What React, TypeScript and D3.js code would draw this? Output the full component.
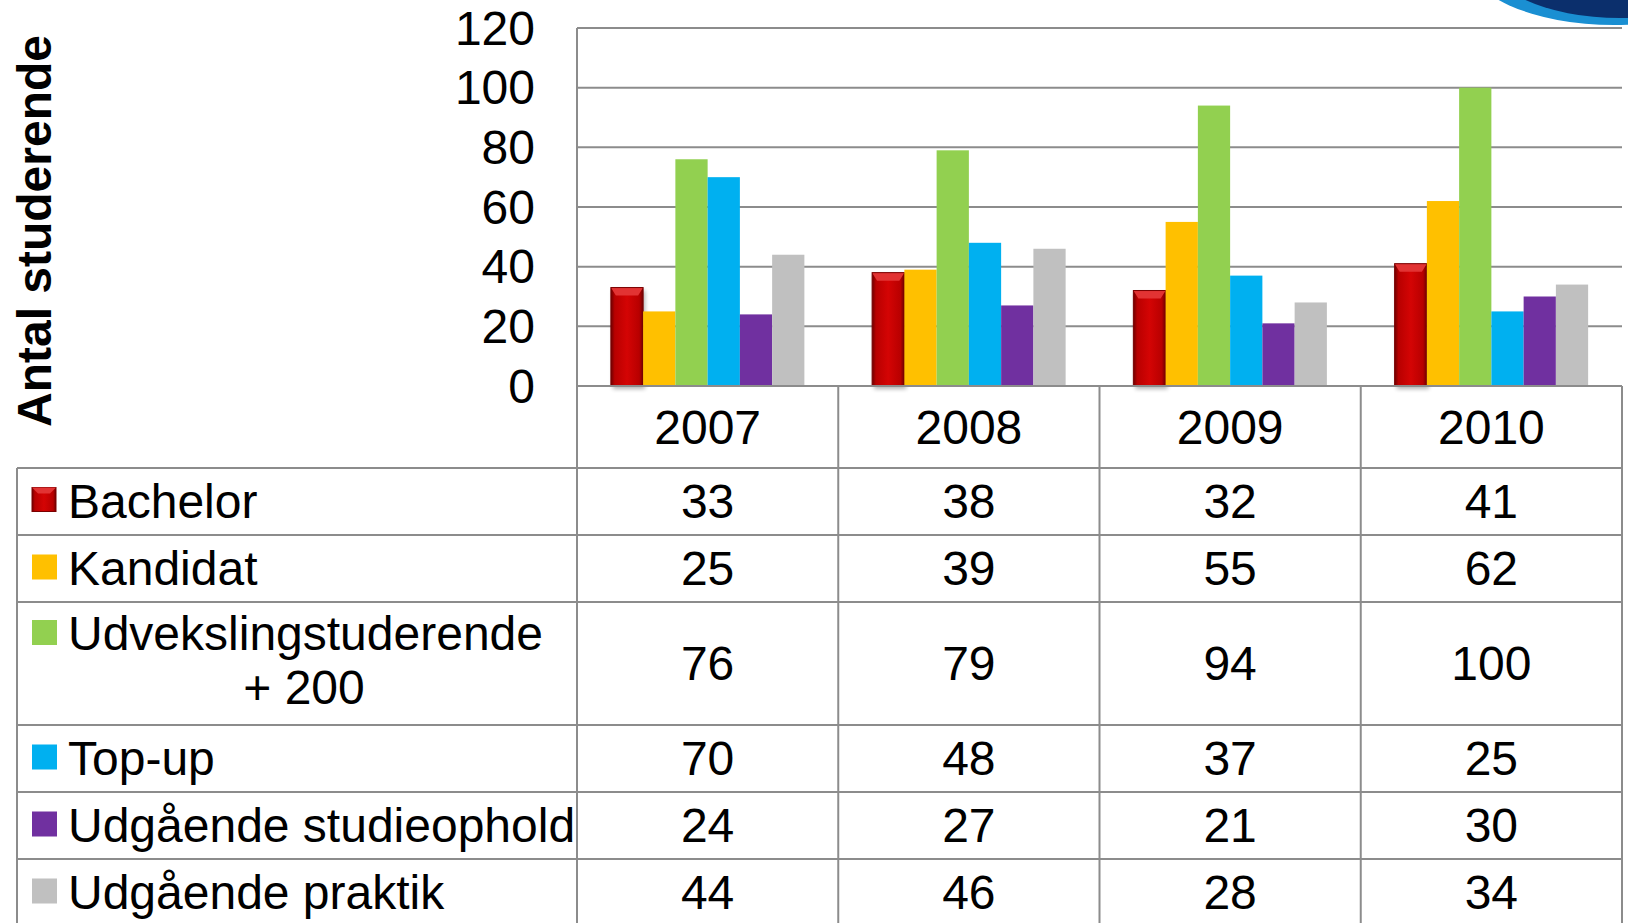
import React from "react";
import * as d3 from "d3";

// data
const years = ["2007", "2008", "2009", "2010"];
const seriesKeys = ["bachelor", "kandidat", "udveksling", "topup", "studieophold", "praktik"];
const seriesLabels = [
  ["Bachelor"],
  ["Kandidat"],
  ["Udvekslingstuderende", "+ 200"],
  ["Top-up"],
  ["Udgående studieophold"],
  ["Udgående praktik"],
];
const seriesColors = ["#cc0000", "#ffc000", "#92d050", "#00b0f0", "#7030a0", "#c0c0c0"];

const bachelor = [33, 38, 32, 41];
const kandidat = [25, 39, 55, 62];
const udveksling = [76, 79, 94, 100];
const topup = [70, 48, 37, 25];
const studieophold = [24, 27, 21, 30];
const praktik = [44, 46, 28, 34];

const seriesValues = [bachelor, kandidat, udveksling, topup, studieophold, praktik];
const yTickValues = [0, 20, 40, 60, 80, 100, 120];
const yAxisTitle = "Antal studerende";

const W = 1628;
const H = 923;
const FONT = "'Liberation Sans', Arial, sans-serif";
const FS = 48;
const GRID = "#8c8c8c";

const plot = { left: 577, right: 1622, top: 28, bottom: 386 };
const tableLeft = 17;
const headerBottom = 468;
const lineRowH = 67;
const extraLineH = 56;

export default function App() {
  const x0 = d3.scaleBand<string>().domain(years).range([plot.left, plot.right]).padding(0);
  const x1 = d3
    .scaleBand<string>()
    .domain(seriesKeys)
    .range([0, x0.bandwidth()])
    .paddingInner(0)
    .paddingOuter(1.05);
  const y = d3.scaleLinear().domain([0, 120]).range([plot.bottom, plot.top]);

  // table row boundaries
  const rows: { top: number; bottom: number }[] = [];
  let cur = headerBottom;
  seriesLabels.forEach((lines) => {
    const h = lineRowH + (lines.length - 1) * extraLineH;
    rows.push({ top: cur, bottom: cur + h });
    cur += h;
  });

  const colEdges = [...years.map((c) => x0(c) as number), plot.right];

  return (
    <div style={{ position: "absolute", left: 0, top: 0 }}>
      <svg width={W} height={H} style={{ display: "block", background: "#fff" }}>
        <defs>
          <linearGradient id="redGrad" x1="0" x2="1" y1="0" y2="0">
            <stop offset="0%" stopColor="#6e0000" />
            <stop offset="12%" stopColor="#b80000" />
            <stop offset="50%" stopColor="#d40404" />
            <stop offset="88%" stopColor="#b80000" />
            <stop offset="100%" stopColor="#6e0000" />
          </linearGradient>
          <filter id="shadow" x="-30%" y="-10%" width="160%" height="130%">
            <feGaussianBlur stdDeviation="2" />
          </filter>
        </defs>

        {/* corner logo fragment */}
        <ellipse cx={1614} cy={-42} rx={148} ry={67} fill="#1a8fd2" />
        <ellipse cx={1620} cy={-46} rx={136} ry={64} fill="#0b2f6c" />

        {/* gridlines */}
        {yTickValues.map((t) => (
          <line key={t} x1={plot.left} x2={plot.right} y1={y(t)} y2={y(t)} stroke={GRID} strokeWidth={2} />
        ))}
        <line x1={plot.left} x2={plot.left} y1={plot.top} y2={plot.bottom} stroke={GRID} strokeWidth={2} />

        {/* y tick labels */}
        {yTickValues.map((t) => (
          <text
            key={"t" + t}
            x={535}
            y={y(t)}
            dy="0.35em"
            textAnchor="end"
            fontFamily={FONT}
            fontSize={FS}
            fill="#000"
          >
            {t}
          </text>
        ))}

        {/* y axis title */}
        <text
          transform={`translate(51,231) rotate(-90)`}
          textAnchor="middle"
          fontFamily={FONT}
          fontSize={48}
          fontWeight="bold"
          fill="#000"
        >
          {yAxisTitle}
        </text>

        {/* bars */}
        {years.map((yr, i) => (
          <g key={yr} transform={`translate(${x0(yr)},0)`}>
            {seriesKeys.map((k, s) => {
              const v = seriesValues[s][i];
              const bx = x1(k) as number;
              const bw = x1.bandwidth();
              const by = y(v);
              const bh = y(0) - y(v);
              if (s === 0) {
                return (
                  <g key={k}>
                    <rect x={bx + 2} y={by + 3} width={bw} height={bh} fill="#000" opacity={0.3} filter="url(#shadow)" />
                    <rect x={bx} y={by} width={bw} height={bh} fill="url(#redGrad)" />
                    <polygon
                      points={`${bx},${by} ${bx + bw},${by} ${bx + bw - 5},${by + 8} ${bx + 5},${by + 8}`}
                      fill="#e23333"
                    />
                    <rect x={bx} y={by} width={bw} height={bh} fill="none" stroke="#7a0000" strokeWidth={1} />
                  </g>
                );
              }
              return <rect key={k} x={bx} y={by} width={bw} height={bh} fill={seriesColors[s]} />;
            })}
          </g>
        ))}

        {/* header row (years) */}
        {colEdges.map((cx, i) => (
          <line key={"hv" + i} x1={cx} x2={cx} y1={plot.bottom} y2={H + 10} stroke={GRID} strokeWidth={2} />
        ))}
        <line x1={plot.left} x2={plot.right} y1={plot.bottom} y2={plot.bottom} stroke={GRID} strokeWidth={2} />
        {years.map((yr) => (
          <text
            key={"yl" + yr}
            x={(x0(yr) as number) + x0.bandwidth() / 2}
            y={(plot.bottom + headerBottom) / 2}
            dy="0.35em"
            textAnchor="middle"
            fontFamily={FONT}
            fontSize={FS}
            fill="#000"
          >
            {yr}
          </text>
        ))}

        {/* table */}
        <line x1={tableLeft} x2={tableLeft} y1={headerBottom} y2={H + 10} stroke={GRID} strokeWidth={2} />
        {rows.map((r, s) => {
          const center = (r.top + r.bottom) / 2;
          const lines = seriesLabels[s];
          const firstBase = lines.length > 1 ? r.top + 48 : center + 16;
          return (
            <g key={"row" + s}>
              <line x1={tableLeft} x2={plot.right} y1={r.top} y2={r.top} stroke={GRID} strokeWidth={2} />
              {s === 0 ? (
                <g>
                  <rect x={32} y={firstBase - 30} width={24} height={24} fill="url(#redGrad)" stroke="#7a0000" strokeWidth={1} />
                  <polygon
                    points={`32,${firstBase - 30} 56,${firstBase - 30} 50,${firstBase - 24} 38,${firstBase - 24}`}
                    fill="#e23333"
                  />
                </g>
              ) : (
                <rect x={32} y={firstBase - 30} width={25} height={25} fill={seriesColors[s]} />
              )}
              <text x={68} y={firstBase} fontFamily={FONT} fontSize={FS} fill="#000">
                {lines[0]}
              </text>
              {lines.slice(1).map((ln, j) => (
                <text
                  key={j}
                  x={304}
                  y={firstBase + 54 * (j + 1)}
                  textAnchor="middle"
                  fontFamily={FONT}
                  fontSize={FS}
                  fill="#000"
                >
                  {ln}
                </text>
              ))}
              {years.map((yr, i) => (
                <text
                  key={yr}
                  x={(x0(yr) as number) + x0.bandwidth() / 2}
                  y={center}
                  dy="0.35em"
                  textAnchor="middle"
                  fontFamily={FONT}
                  fontSize={FS}
                  fill="#000"
                >
                  {seriesValues[s][i]}
                </text>
              ))}
            </g>
          );
        })}
        <line
          x1={tableLeft}
          x2={plot.right}
          y1={rows[rows.length - 1].bottom}
          y2={rows[rows.length - 1].bottom}
          stroke={GRID}
          strokeWidth={2}
        />
      </svg>
    </div>
  );
}
